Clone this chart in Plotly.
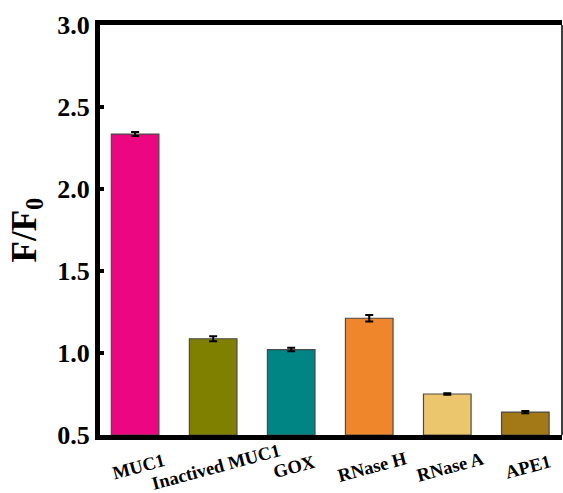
import plotly.graph_objects as go

# Relative fluorescence (F/F0) of the probe against different targets
categories = ["MUC1", "Inactived MUC1", "GOX", "RNase H", "RNase A", "APE1"]
ratio = [2.335, 1.087, 1.021, 1.212, 0.750, 0.640]
ratio_err = [0.012, 0.015, 0.011, 0.020, 0.005, 0.007]
bar_colors = ["#EC0680", "#808000", "#008484", "#F0862C", "#ECC66C", "#A37816"]
y_ticks = [0.5, 1.0, 1.5, 2.0, 2.5, 3.0]

FONT = "Liberation Serif, Times New Roman, serif"

fig = go.Figure(
    go.Bar(
        x=categories,
        y=[v - 0.5 for v in ratio],
        base=0.5,
        width=0.61,
        marker=dict(color=bar_colors, line=dict(color="#4a4a4a", width=1.2)),
        error_y=dict(type="data", array=ratio_err, color="black", thickness=2, width=4),
    )
)

# Category labels, centred under each bar and tilted
for cat in categories:
    fig.add_annotation(
        x=cat, xref="x", y=0, yref="paper", yshift=-32, xshift=3,
        text=cat, showarrow=False, textangle=-15,
        xanchor="center", yanchor="middle",
        font=dict(family=FONT, size=18.5, color="black", weight="bold"),
    )

# Thin right-hand border of the frame
fig.add_shape(type="line", xref="paper", yref="paper", x0=1, x1=1, y0=0, y1=1,
              line=dict(color="black", width=1.5))

fig.update_layout(
    width=563, height=493,
    margin=dict(l=100, r=1, t=25, b=58),
    paper_bgcolor="white", plot_bgcolor="white",
    showlegend=False,
    xaxis=dict(
        type="category", range=[-0.45, 5.47],
        showline=True, linecolor="black", linewidth=5, mirror=True,
        showticklabels=False, ticks="", showgrid=False, zeroline=False,
    ),
    yaxis=dict(
        range=[0.5, 3.0], tickvals=y_ticks, ticktext=[f"{v:.1f}" for v in y_ticks],
        showline=True, linecolor="black", linewidth=5,
        ticks="inside", ticklen=4, tickwidth=4, tickcolor="black",
        showgrid=False, zeroline=False,
        tickfont=dict(family=FONT, size=26, color="black", weight="bold"),
        title=dict(text="F/F<sub>0</sub>", standoff=12,
                   font=dict(family=FONT, size=35, color="black", weight="bold")),
    ),
)

fig.write_html("out.html")
